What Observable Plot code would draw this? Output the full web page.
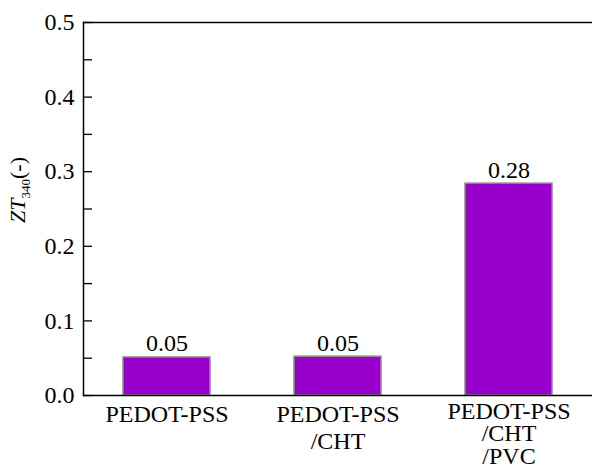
<!DOCTYPE html>
<html>
<head>
<meta charset="utf-8">
<script src="https://cdn.jsdelivr.net/npm/d3@7"></script>
<script src="https://cdn.jsdelivr.net/npm/@observablehq/plot@0.6"></script>
<style>
  html, body { margin: 0; padding: 0; background: #fff; }
</style>
</head>
<body>
<div id="chart"></div>
<script>
const categories = ["PEDOT-PSS", "PEDOT-PSS\n/CHT", "PEDOT-PSS\n/CHT\n/PVC"];
const values = [0.051, 0.052, 0.284];
const valueLabels = ["0.05", "0.05", "0.28"];
const yTickLabels = [0, 0.1, 0.2, 0.3, 0.4, 0.5];
const yTickMarks = [0, 0.05, 0.1, 0.15, 0.2, 0.25, 0.3, 0.35, 0.4, 0.45, 0.5];

const data = categories.map((c, i) => ({cat: c, value: values[i], label: valueLabels[i]}));

const W = 592, H = 465, ML = 83, MR = 0, MT = 22, MB = 70;

const svg = Plot.plot({
  width: W, height: H,
  marginLeft: ML, marginRight: MR, marginTop: MT, marginBottom: MB,
  style: {fontFamily: "Liberation Serif", fontSize: "24px", background: "white", color: "black"},
  x: {domain: categories, paddingInner: 0.49, paddingOuter: 0.225, label: null},
  y: {domain: [0, 0.5], label: null},
  marks: [
    Plot.barY(data, {x: "cat", y: "value", fill: "#9900cc", stroke: "#8c8c8c", strokeWidth: 1.5}),
    Plot.text(data, {x: "cat", y: "value", text: "label", lineAnchor: "bottom", dy: -6}),
    Plot.ruleY(yTickMarks, {insetRight: (W - ML - MR) - 9, stroke: "black", strokeWidth: 1.3}),
    Plot.ruleY([0, 0.5], {stroke: "black", strokeWidth: 1.5}),
    Plot.frame({anchor: "left", stroke: "black", strokeWidth: 1.5}),
    Plot.axisY(yTickLabels, {tickSize: 0, tickPadding: 9, tickFormat: d3.format(".1f"), label: null}),
    Plot.axisX(categories.slice(0, 2), {tickSize: 0, tickPadding: 8, lineHeight: 1.1, label: null}),
    Plot.axisX(categories.slice(2), {tickSize: 0, tickPadding: 7, lineHeight: 0.94, label: null})
  ]
});

const t = d3.select(svg).append("text")
  .attr("transform", "translate(25,190) rotate(-90)")
  .attr("text-anchor", "middle")
  .attr("fill", "black")
  .style("font-size", "22px");
t.append("tspan").attr("font-style", "italic").text("ZT");
t.append("tspan").attr("font-size", "13px").attr("dy", "5").text("340");
t.append("tspan").attr("dy", "-5").text("(-)");

document.getElementById("chart").appendChild(svg);
</script>
</body>
</html>
